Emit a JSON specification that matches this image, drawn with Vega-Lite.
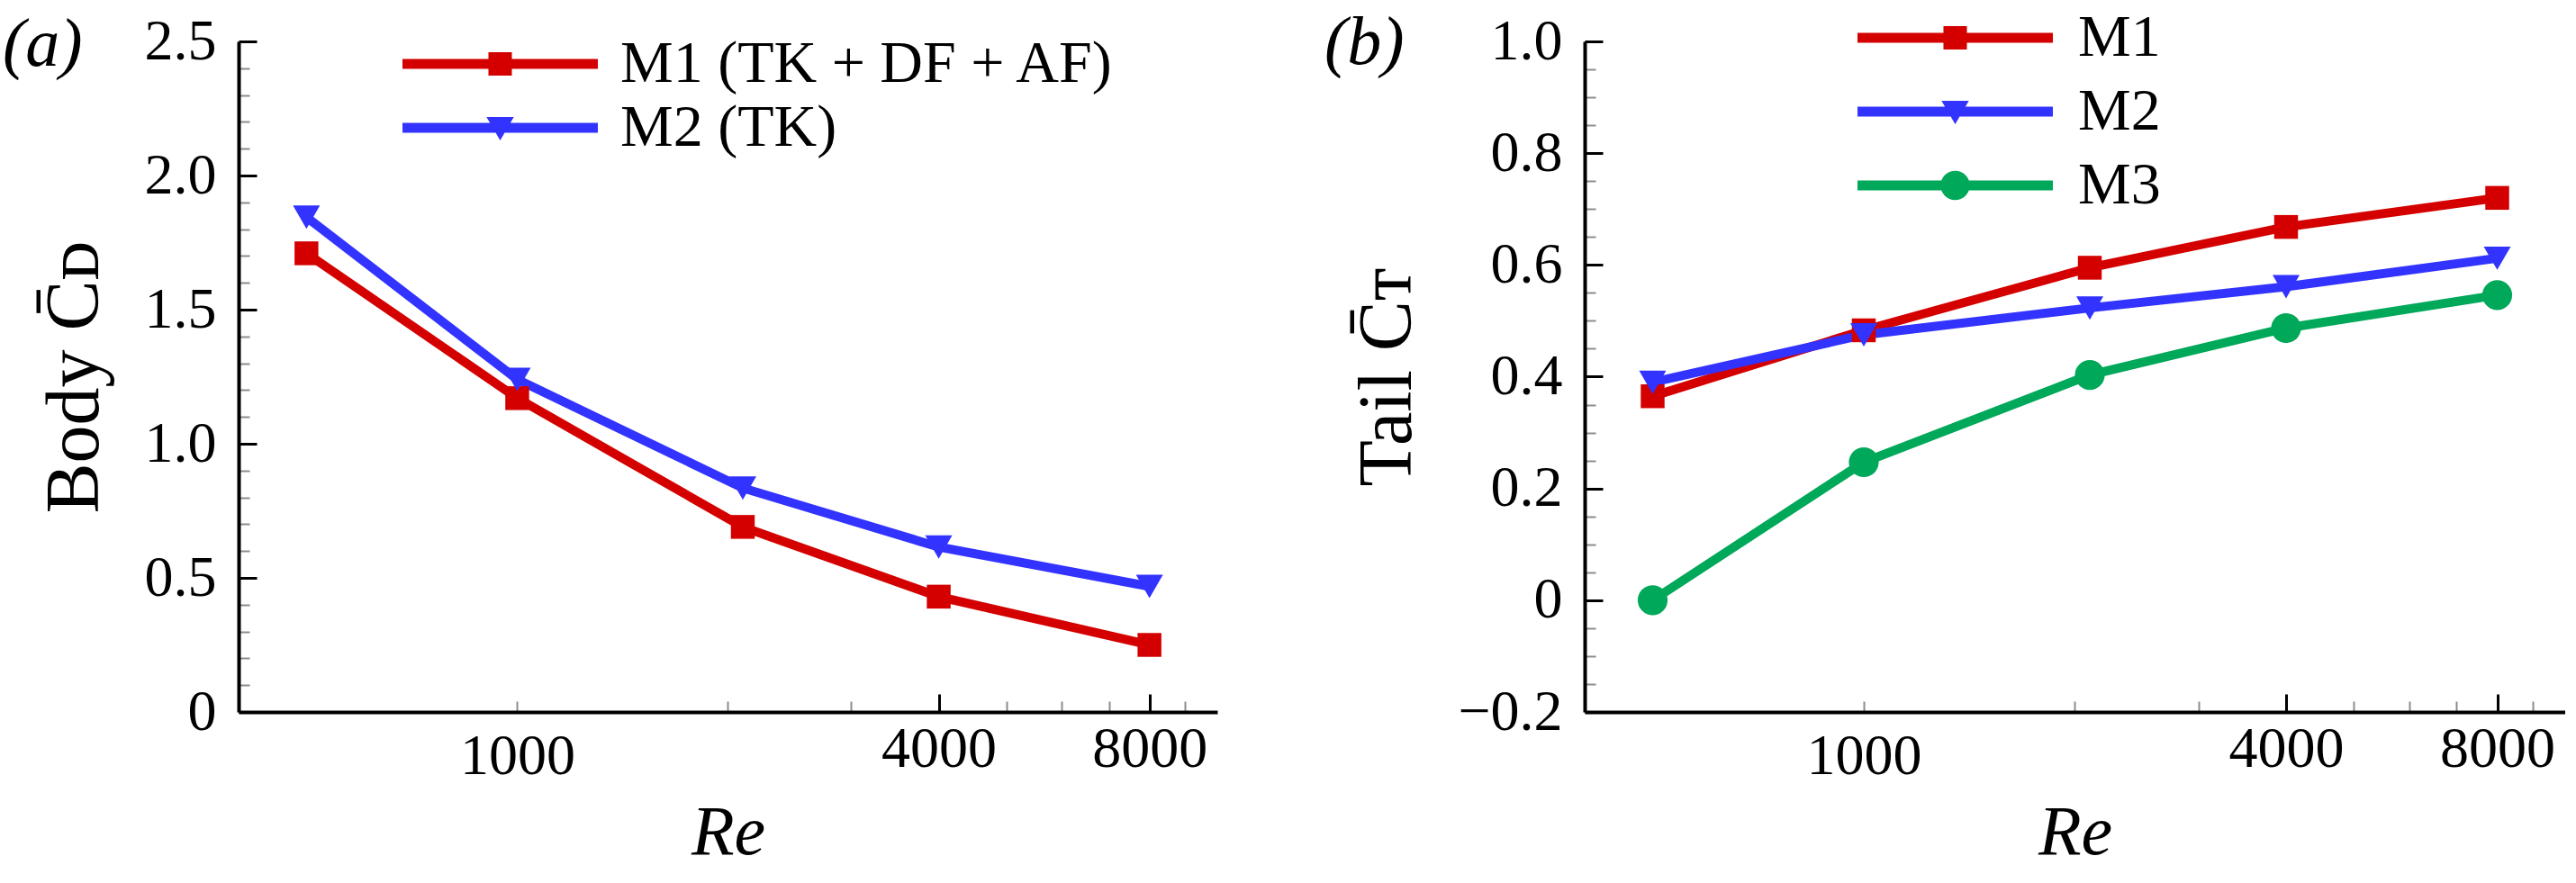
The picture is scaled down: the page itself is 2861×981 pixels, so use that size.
{
  "$schema": "https://vega.github.io/schema/vega-lite/v6.json",
  "background": "white",
  "padding": {"left": 3, "top": 10, "right": 0, "bottom": 0},
  "datasets": {
    "body": [
      {"Re": 500, "Model": "M1 (TK + DF + AF)", "value": 1.71},
      {"Re": 1000, "Model": "M1 (TK + DF + AF)", "value": 1.17},
      {"Re": 2100, "Model": "M1 (TK + DF + AF)", "value": 0.69},
      {"Re": 4000, "Model": "M1 (TK + DF + AF)", "value": 0.43},
      {"Re": 8000, "Model": "M1 (TK + DF + AF)", "value": 0.25},
      {"Re": 500, "Model": "M2 (TK)", "value": 1.845},
      {"Re": 1000, "Model": "M2 (TK)", "value": 1.24},
      {"Re": 2100, "Model": "M2 (TK)", "value": 0.835},
      {"Re": 4000, "Model": "M2 (TK)", "value": 0.615},
      {"Re": 8000, "Model": "M2 (TK)", "value": 0.468}
    ],
    "tail": [
      {"Re": 500, "Model": "M1", "value": 0.365},
      {"Re": 1000, "Model": "M1", "value": 0.483},
      {"Re": 2100, "Model": "M1", "value": 0.595},
      {"Re": 4000, "Model": "M1", "value": 0.668},
      {"Re": 8000, "Model": "M1", "value": 0.72},
      {"Re": 500, "Model": "M2", "value": 0.39},
      {"Re": 1000, "Model": "M2", "value": 0.475},
      {"Re": 2100, "Model": "M2", "value": 0.523},
      {"Re": 4000, "Model": "M2", "value": 0.561},
      {"Re": 8000, "Model": "M2", "value": 0.612},
      {"Re": 500, "Model": "M3", "value": 0.0},
      {"Re": 1000, "Model": "M3", "value": 0.247},
      {"Re": 2100, "Model": "M3", "value": 0.403},
      {"Re": 4000, "Model": "M3", "value": 0.487},
      {"Re": 8000, "Model": "M3", "value": 0.546}
    ]
  },
  "spacing": 118,
  "resolve": {
    "scale": {"color": "independent", "fill": "independent", "shape": "independent"},
    "legend": {"fill": "independent", "shape": "independent"}
  },
  "hconcat": [
    {
      "title": {"text": "(a)", "anchor": "start", "frame": "bounds", "dx": -38, "dy": 79},
      "width": 1087,
      "height": 745,
      "data": {"name": "body"},
      "resolve": {"axis": {"x": "independent", "y": "independent"}},
      "layer": [
        {
          "mark": {"type": "line", "strokeWidth": 10},
          "encoding": {
            "x": {
              "field": "Re", "type": "quantitative",
              "scale": {"type": "log", "domain": [400, 10000], "nice": false},
              "axis": {
                "orient": "bottom",
                "values": [1000, 2000, 3000, 5000, 6000, 7000, 9000],
                "tickSize": -12, "tickColor": "#8c8c8c", "tickWidth": 2,
                "domain": false, "title": null,
                "labelExpr": "datum.value == 1000 ? '1000' : ''"
              }
            },
            "y": {
              "field": "value", "type": "quantitative",
              "scale": {"domain": [0, 2.5], "nice": false, "zero": false},
              "axis": {
                "orient": "left",
                "values": [0, 0.1, 0.2, 0.3, 0.4, 0.5, 0.6, 0.7, 0.8, 0.9, 1.0, 1.1, 1.2, 1.3, 1.4, 1.5, 1.6, 1.7, 1.8, 1.9, 2.0, 2.1, 2.2, 2.3, 2.4, 2.5],
                "tickSize": -12, "tickColor": "#8c8c8c", "tickWidth": 2,
                "domain": false, "labels": false, "title": null
              }
            },
            "color": {
              "field": "Model", "type": "nominal",
              "scale": {"range": ["#d40000", "#3333ff"]},
              "legend": null
            }
          }
        },
        {
          "transform": [{"filter": "datum.Model == 'M1 (TK + DF + AF)'"}],
          "mark": {"type": "point", "shape": "square", "filled": true, "size": 700, "opacity": 1},
          "encoding": {
            "x": {
              "field": "Re", "type": "quantitative",
              "scale": {"type": "log", "domain": [400, 10000], "nice": false},
              "axis": {"orient": "bottom", "values": [4000, 8000], "tickSize": -20, "labelExpr": "format(datum.value, 'd')", "title": "Re", "titleFontStyle": "italic", "titleFontSize": 78, "titlePadding": 22}
            },
            "y": {
              "field": "value", "type": "quantitative",
              "scale": {"domain": [0, 2.5], "nice": false, "zero": false},
              "axis": {
                "orient": "left",
                "values": [0, 0.5, 1.0, 1.5, 2.0, 2.5], "tickSize": -20, "labelPadding": 45,
                "labelExpr": "datum.value == 0 ? '0' : format(datum.value, '.1f')",
                "title": "Body C\u0304\u1d05", "titlePadding": 34
              }
            },
            "color": {"field": "Model", "type": "nominal", "legend": null}
          }
        },
        {
          "transform": [{"filter": "datum.Model == 'M2 (TK)'"}],
          "mark": {"type": "point", "shape": "triangle-down", "filled": true, "size": 900, "opacity": 1},
          "encoding": {
            "x": {"field": "Re", "type": "quantitative", "scale": {"type": "log", "domain": [400, 10000], "nice": false}, "axis": null},
            "y": {"field": "value", "type": "quantitative", "scale": {"domain": [0, 2.5], "nice": false, "zero": false}, "axis": null},
            "color": {"field": "Model", "type": "nominal", "legend": null}
          }
        },
        {
          "mark": {"type": "point", "filled": true, "size": 1, "opacity": 1},
          "encoding": {
            "x": {"field": "Re", "type": "quantitative", "scale": {"type": "log", "domain": [400, 10000], "nice": false}, "axis": null},
            "y": {"field": "value", "type": "quantitative", "scale": {"domain": [0, 2.5], "nice": false, "zero": false}, "axis": null},
            "fill": {
              "field": "Model", "type": "nominal",
              "scale": {"domain": ["M1 (TK + DF + AF)", "M2 (TK)"], "range": ["#d40000", "#3333ff"]},
              "legend": {"title": null, "orient": "none", "legendX": 182, "legendY": -5, "clipHeight": 60, "rowPadding": 5, "labelOffset": 25}
            },
            "shape": {
              "field": "Model", "type": "nominal",
              "scale": {
                "domain": ["M1 (TK + DF + AF)", "M2 (TK)"],
                "range": [
                  "M-1,-0.05L1,-0.05L1,0.05L-1,0.05ZM-0.12,-0.12L0.12,-0.12L0.12,0.12L-0.12,0.12Z",
                  "M-1,-0.05L1,-0.05L1,0.05L-1,0.05ZM-0.14,-0.11L0.14,-0.11L0,0.13Z"
                ]
              },
              "legend": {"title": null, "orient": "none", "legendX": 182, "legendY": -5, "clipHeight": 60, "rowPadding": 5, "labelOffset": 25}
            }
          }
        }
      ]
    },
    {
      "title": {"text": "(b)", "anchor": "start", "frame": "bounds", "dx": -29, "dy": 79},
      "width": 1089,
      "height": 745,
      "data": {"name": "tail"},
      "resolve": {"axis": {"x": "independent", "y": "independent"}},
      "layer": [
        {
          "mark": {"type": "line", "strokeWidth": 10},
          "encoding": {
            "x": {
              "field": "Re", "type": "quantitative",
              "scale": {"type": "log", "domain": [400, 10000], "nice": false},
              "axis": {
                "orient": "bottom",
                "values": [1000, 2000, 3000, 5000, 6000, 7000, 9000],
                "tickSize": -12, "tickColor": "#8c8c8c", "tickWidth": 2,
                "domain": false, "title": null,
                "labelExpr": "datum.value == 1000 ? '1000' : ''"
              }
            },
            "y": {
              "field": "value", "type": "quantitative",
              "scale": {"domain": [-0.2, 1.0], "nice": false, "zero": false},
              "axis": {
                "orient": "left",
                "values": [-0.2, -0.15, -0.1, -0.05, 0, 0.05, 0.1, 0.15, 0.2, 0.25, 0.3, 0.35, 0.4, 0.45, 0.5, 0.55, 0.6, 0.65, 0.7, 0.75, 0.8, 0.85, 0.9, 0.95, 1.0],
                "tickSize": -12, "tickColor": "#8c8c8c", "tickWidth": 2,
                "domain": false, "labels": false, "title": null
              }
            },
            "color": {
              "field": "Model", "type": "nominal",
              "scale": {"range": ["#d40000", "#3333ff", "#00a859"]},
              "legend": null
            }
          }
        },
        {
          "transform": [{"filter": "datum.Model == 'M1'"}],
          "mark": {"type": "point", "shape": "square", "filled": true, "size": 700, "opacity": 1},
          "encoding": {
            "x": {
              "field": "Re", "type": "quantitative",
              "scale": {"type": "log", "domain": [400, 10000], "nice": false},
              "axis": {"orient": "bottom", "values": [4000, 8000], "tickSize": -20, "labelExpr": "format(datum.value, 'd')", "title": "Re", "titleFontStyle": "italic", "titleFontSize": 78, "titlePadding": 22}
            },
            "y": {
              "field": "value", "type": "quantitative",
              "scale": {"domain": [-0.2, 1.0], "nice": false, "zero": false},
              "axis": {
                "orient": "left",
                "values": [-0.2, 0, 0.2, 0.4, 0.6, 0.8, 1.0], "tickSize": -20, "labelPadding": 45,
                "labelExpr": "datum.value == 0 ? '0' : (datum.value < 0 ? '\u2212' : '') + format(abs(datum.value), '.1f')",
                "title": "Tail C\u0304\u1d1b", "titlePadding": 34
              }
            },
            "color": {"field": "Model", "type": "nominal", "legend": null}
          }
        },
        {
          "transform": [{"filter": "datum.Model == 'M2'"}],
          "mark": {"type": "point", "shape": "triangle-down", "filled": true, "size": 900, "opacity": 1},
          "encoding": {
            "x": {"field": "Re", "type": "quantitative", "scale": {"type": "log", "domain": [400, 10000], "nice": false}, "axis": null},
            "y": {"field": "value", "type": "quantitative", "scale": {"domain": [-0.2, 1.0], "nice": false, "zero": false}, "axis": null},
            "color": {"field": "Model", "type": "nominal", "legend": null}
          }
        },
        {
          "transform": [{"filter": "datum.Model == 'M3'"}],
          "mark": {"type": "point", "shape": "circle", "filled": true, "size": 1100, "opacity": 1},
          "encoding": {
            "x": {"field": "Re", "type": "quantitative", "scale": {"type": "log", "domain": [400, 10000], "nice": false}, "axis": null},
            "y": {"field": "value", "type": "quantitative", "scale": {"domain": [-0.2, 1.0], "nice": false, "zero": false}, "axis": null},
            "color": {"field": "Model", "type": "nominal", "legend": null}
          }
        },
        {
          "mark": {"type": "point", "filled": true, "size": 1, "opacity": 1},
          "encoding": {
            "x": {"field": "Re", "type": "quantitative", "scale": {"type": "log", "domain": [400, 10000], "nice": false}, "axis": null},
            "y": {"field": "value", "type": "quantitative", "scale": {"domain": [-0.2, 1.0], "nice": false, "zero": false}, "axis": null},
            "fill": {
              "field": "Model", "type": "nominal",
              "scale": {"domain": ["M1", "M2", "M3"], "range": ["#d40000", "#3333ff", "#00a859"]},
              "legend": {"title": null, "orient": "none", "legendX": 303, "legendY": -34, "clipHeight": 60, "rowPadding": 16, "labelOffset": 28}
            },
            "shape": {
              "field": "Model", "type": "nominal",
              "scale": {
                "domain": ["M1", "M2", "M3"],
                "range": [
                  "M-1,-0.05L1,-0.05L1,0.05L-1,0.05ZM-0.12,-0.12L0.12,-0.12L0.12,0.12L-0.12,0.12Z",
                  "M-1,-0.05L1,-0.05L1,0.05L-1,0.05ZM-0.14,-0.11L0.14,-0.11L0,0.13Z",
                  "M-1,-0.05L1,-0.05L1,0.05L-1,0.05ZM-0.15,0A0.15,0.15 0 1,1 0.15,0A0.15,0.15 0 1,1 -0.15,0Z"
                ]
              },
              "legend": {"title": null, "orient": "none", "legendX": 303, "legendY": -34, "clipHeight": 60, "rowPadding": 16, "labelOffset": 28}
            }
          }
        }
      ]
    }
  ],
  "config": {
    "font": "Liberation Serif",
    "view": {"stroke": null},
    "title": {"font": "Liberation Serif", "fontSize": 76, "fontStyle": "italic", "fontWeight": "normal", "color": "black", "offset": 0},
    "axis": {
      "grid": false,
      "domainColor": "black", "domainWidth": 4,
      "tickColor": "black", "tickWidth": 3,
      "labelFont": "Liberation Serif", "labelFontSize": 64, "labelColor": "black", "labelPadding": 29,
      "labelFlush": false, "labelOverlap": false,
      "titleFont": "Liberation Serif", "titleFontSize": 84, "titleFontWeight": "normal", "titleColor": "black"
    },
    "legend": {
      "symbolSize": 47089, "symbolStrokeWidth": 0, "symbolOpacity": 1,
      "labelFont": "Liberation Serif", "labelFontSize": 66, "labelColor": "black", "labelLimit": 2000,
      "padding": 0
    }
  }
}
